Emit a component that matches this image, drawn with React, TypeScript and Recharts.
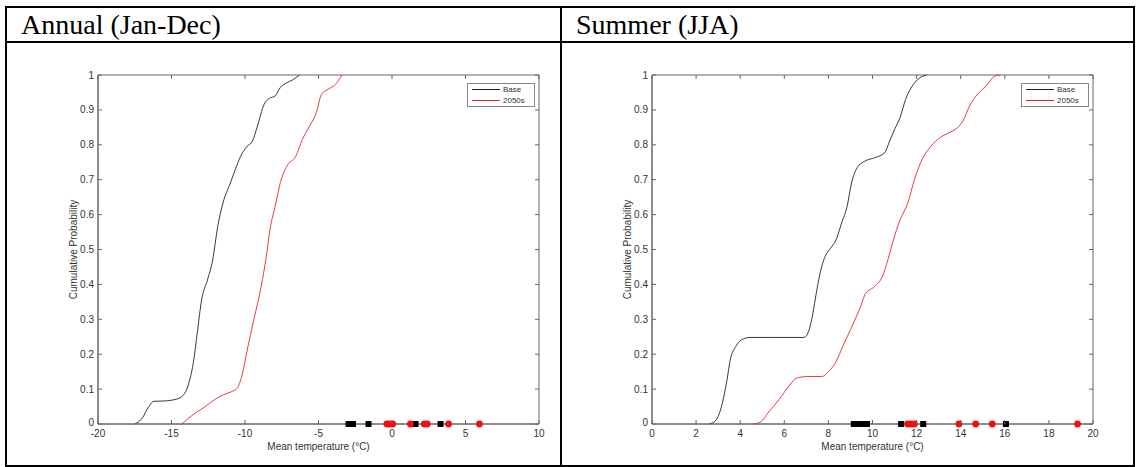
import { ComposedChart, Line, Scatter, XAxis, YAxis, ReferenceArea, Legend } from 'recharts';

// cumulative probability ticks shared by both panels
const probTicks = [0, 0.1, 0.2, 0.3, 0.4, 0.5, 0.6, 0.7, 0.8, 0.9, 1];
const annualTicks = [-20, -15, -10, -5, 0, 5, 10];
const summerTicks = [0, 2, 4, 6, 8, 10, 12, 14, 16, 18, 20];
const seriesNames = ['Base', '2050s'];

// Annual (Jan-Dec)
const annualBaseTemp = [-17.5, -17.0, -16.55, -16.2, -15.5, -14.6, -14.1, -13.8, -13.5, -13.25, -12.95, -12.55, -12.2, -11.85, -11.5, -11.0, -10.65, -10.3, -9.85, -9.5, -9.15, -8.7, -8.35, -7.95, -7.6, -7.15, -6.8, -6.3];
const annualBaseProb = [0, 0.016, 0.05, 0.065, 0.066, 0.072, 0.088, 0.12, 0.18, 0.26, 0.356, 0.413, 0.47, 0.567, 0.633, 0.69, 0.73, 0.767, 0.796, 0.81, 0.854, 0.916, 0.933, 0.94, 0.964, 0.978, 0.985, 1];
const annualFutTemp = [-14.3, -13.4, -12.7, -12.1, -11.5, -10.9, -10.55, -10.2, -9.85, -9.4, -8.9, -8.55, -8.3, -7.95, -7.6, -7.15, -6.55, -6.1, -5.6, -5.15, -4.8, -4.35, -3.85, -3.4];
const annualFutProb = [0, 0.031, 0.05, 0.069, 0.083, 0.093, 0.102, 0.14, 0.212, 0.299, 0.394, 0.48, 0.557, 0.624, 0.691, 0.739, 0.767, 0.815, 0.854, 0.892, 0.944, 0.959, 0.973, 1];
const annualBaseModels = [-2.95, -2.8, -2.65, -1.6, 1.6, 3.3];
const annualFutModels = [-0.35, -0.15, 0.05, 1.25, 2.2, 2.4, 3.85, 5.95];

// Summer (JJA)
const summerBaseTemp = [2.6, 2.9, 3.15, 3.4, 3.55, 3.8, 4.05, 4.45, 5.5, 6.9, 7.1, 7.3, 7.45, 7.7, 7.85, 8.1, 8.35, 8.6, 8.85, 9.05, 9.3, 9.65, 10.1, 10.55, 10.75, 11.0, 11.25, 11.5, 11.8, 12.15, 12.45];
const summerBaseProb = [0, 0.011, 0.05, 0.126, 0.184, 0.222, 0.241, 0.248, 0.248, 0.248, 0.265, 0.318, 0.375, 0.452, 0.48, 0.504, 0.528, 0.576, 0.624, 0.691, 0.734, 0.753, 0.763, 0.777, 0.806, 0.844, 0.878, 0.93, 0.968, 0.992, 1];
const summerFutTemp = [4.6, 4.95, 5.25, 5.75, 6.25, 6.55, 7.05, 7.7, 8.0, 8.35, 8.65, 9.0, 9.4, 9.7, 10.1, 10.45, 10.7, 10.95, 11.25, 11.6, 11.9, 12.25, 12.65, 13.05, 13.45, 13.85, 14.1, 14.4, 14.75, 15.15, 15.55, 15.8];
const summerFutProb = [0, 0.007, 0.031, 0.069, 0.112, 0.131, 0.136, 0.136, 0.15, 0.179, 0.222, 0.27, 0.327, 0.375, 0.394, 0.423, 0.471, 0.528, 0.585, 0.633, 0.7, 0.758, 0.796, 0.82, 0.834, 0.849, 0.868, 0.911, 0.944, 0.968, 0.997, 1];
const summerBaseModels = [9.15, 9.3, 9.45, 9.6, 9.75, 11.3, 12.3, 16.05];
const summerFutModels = [11.6, 11.75, 11.9, 13.92, 14.68, 15.43, 19.3];

const W = 510;
const H = 410;
const PL = 58;
const PR = W - 11;
const PT = 25;
const PB = H - 36;
const FONT = '"Liberation Sans", Arial, sans-serif';
const RED = '#e3262c';

const zip = (xs: number[], ys: number[]) => xs.map((x, i) => ({ x, y: ys[i] }));
const dots = (xs: number[]) => xs.map(x => ({ x, y: 0 }));

const XTick = (props: any) => {
  const { x, payload } = props;
  return (
    <g>
      <line x1={x} x2={x} y1={PB} y2={PB - 4} stroke="#666" />
      <line x1={x} x2={x} y1={PT} y2={PT + 4} stroke="#666" />
      <text x={x} y={PB + 13} textAnchor="middle" fontSize={10} fontFamily={FONT} fill="#333">{payload.value}</text>
    </g>
  );
};

const YTick = (props: any) => {
  const { y, payload } = props;
  const v = payload.value;
  const label = v === 0 ? '0' : v === 1 ? '1' : v.toFixed(1);
  return (
    <g>
      <line x1={PL} x2={PL + 4} y1={y} y2={y} stroke="#666" />
      <line x1={PR} x2={PR - 4} y1={y} y2={y} stroke="#666" />
      <text x={PL - 4} y={y + (v === 0 ? 2 : 3.5)} textAnchor="end" fontSize={10} fontFamily={FONT} fill="#333">{label}</text>
    </g>
  );
};

const Square = (props: any) => (
  <rect x={props.cx - 3} y={props.cy - 3} width={6} height={6} fill="#000" />
);
const Dot = (props: any) => <circle cx={props.cx} cy={props.cy} r={3.4} fill="#ee1111" />;

const LegendBox = ({ payload }: any) => {
  const items = seriesNames
    .map(n => (payload || []).find((p: any) => p.value === n))
    .filter(Boolean);
  return (
    <div style={{ width: 66, height: 22, border: '1px solid #888', background: '#fff', fontFamily: FONT, fontSize: 8, color: '#333' }}>
      {items.map((p: any) => (
        <div key={p.value} style={{ height: 11, display: 'flex', alignItems: 'center' }}>
          <span style={{ display: 'inline-block', marginLeft: 4, width: 28, height: 1, background: p.color }} />
          <span style={{ marginLeft: 3, lineHeight: '11px' }}>{p.value}</span>
        </div>
      ))}
    </div>
  );
};

interface PanelProps {
  left: number;
  domain: [number, number];
  ticks: number[];
  base: { x: number; y: number }[];
  fut: { x: number; y: number }[];
  baseDots: { x: number; y: number }[];
  futDots: { x: number; y: number }[];
}

function Panel({ left, domain, ticks, base, fut, baseDots, futDots }: PanelProps) {
  return (
    <div style={{ position: 'absolute', left, top: 50 }}>
      <ComposedChart width={W} height={H} margin={{ top: PT, right: W - PR, bottom: 0, left: 0 }}>
        <XAxis
          dataKey="x"
          type="number"
          domain={domain}
          ticks={ticks}
          allowDataOverflow
          height={36}
          tickLine={false}
          axisLine={{ stroke: '#666' }}
          tick={<XTick />}
          label={{ value: 'Mean temperature (°C)', position: 'insideBottom', offset: 10, fontSize: 10, fontFamily: FONT, fill: '#333' }}
        />
        <YAxis
          dataKey="y"
          type="number"
          domain={[0, 1]}
          ticks={probTicks}
          width={PL}
          tickLine={false}
          axisLine={{ stroke: '#666' }}
          tick={<YTick />}
          label={{ value: 'Cumulative Probability', angle: -90, position: 'insideLeft', offset: 33, fontSize: 10, fontFamily: FONT, fill: '#333', style: { textAnchor: 'middle' } }}
        />
        <ReferenceArea x1={domain[0]} x2={domain[1]} y1={0} y2={1} fill="none" stroke="#666" strokeWidth={1} />
        <Line data={base} dataKey="y" name={seriesNames[0]} type="monotone" stroke="#222" strokeWidth={0.9} dot={false} isAnimationActive={false} />
        <Line data={fut} dataKey="y" name={seriesNames[1]} type="monotone" stroke={RED} strokeWidth={0.9} dot={false} isAnimationActive={false} />
        <Scatter data={baseDots} dataKey="y" shape={<Square />} legendType="none" isAnimationActive={false} />
        <Scatter data={futDots} dataKey="y" shape={<Dot />} legendType="none" isAnimationActive={false} />
        <Legend
          layout="vertical"
          align="center"
          verticalAlign="middle"
          content={<LegendBox />}
          wrapperStyle={{ left: 427, top: 33, width: 68, height: 24 }}
        />
      </ComposedChart>
    </div>
  );
}

const border = '2px solid #000';

export default function App() {
  return (
    <div style={{ position: 'absolute', left: 0, top: 0, width: 1138, height: 467, background: '#fff', fontFamily: '"Liberation Serif", "Times New Roman", serif' }}>
      {/* table frame */}
      <div style={{ position: 'absolute', left: 5, top: 6, width: 1126, height: 457, borderLeft: border, borderTop: border, borderRight: border, borderBottom: border }} />
      <div style={{ position: 'absolute', left: 5, top: 41, width: 1128, height: 0, borderTop: border }} />
      <div style={{ position: 'absolute', left: 560, top: 6, width: 0, height: 459, borderLeft: border }} />
      <div style={{ position: 'absolute', left: 21, top: 8, fontSize: 28, lineHeight: '34px', color: '#000' }}>Annual (Jan-Dec)</div>
      <div style={{ position: 'absolute', left: 576, top: 8, fontSize: 28, lineHeight: '34px', color: '#000' }}>Summer (JJA)</div>

      <Panel
        left={40}
        domain={[-20, 10]}
        ticks={annualTicks}
        base={zip(annualBaseTemp, annualBaseProb)}
        fut={zip(annualFutTemp, annualFutProb)}
        baseDots={dots(annualBaseModels)}
        futDots={dots(annualFutModels)}
      />
      <Panel
        left={594}
        domain={[0, 20]}
        ticks={summerTicks}
        base={zip(summerBaseTemp, summerBaseProb)}
        fut={zip(summerFutTemp, summerFutProb)}
        baseDots={dots(summerBaseModels)}
        futDots={dots(summerFutModels)}
      />
    </div>
  );
}
